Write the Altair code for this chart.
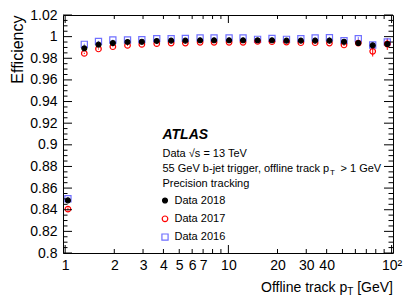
import altair as alt
import pandas as pd

FONT = "Liberation Sans"

# ---- data ----
PT = [1.04, 1.31, 1.60, 1.96, 2.41, 2.95, 3.64, 4.46, 5.45, 6.71, 8.17, 10.1,
      12.3, 15.1, 18.5, 22.7, 27.8, 34.0, 41.6, 51.1, 62.5, 76.6, 94.1]
EFF_2018 = [0.8486, 0.9892, 0.9926, 0.9941, 0.9951, 0.9953, 0.9960, 0.9963, 0.9963,
            0.9966, 0.9966, 0.9966, 0.9966, 0.9966, 0.9966, 0.9963, 0.9963, 0.9963,
            0.9963, 0.9953, 0.9941, 0.9919, 0.9932]
ERR_2018 = [0.0015, 0.0006, 0.0004, 0.0003, 0.0003, 0.0003, 0.0003, 0.0003, 0.0003,
            0.0003, 0.0003, 0.0003, 0.0003, 0.0003, 0.0003, 0.0003, 0.0003, 0.0004,
            0.0005, 0.0006, 0.0008, 0.0012, 0.0015]
EFF_2017 = [0.8406, 0.9845, 0.9886, 0.9907, 0.9919, 0.9928, 0.9935, 0.9941, 0.9941,
            0.9947, 0.9947, 0.9947, 0.9947, 0.9956, 0.9953, 0.9950, 0.9944, 0.9944,
            0.9941, 0.9923, 0.9941, 0.9864, 0.9932]
ERR_2017 = [0.0015, 0.0006, 0.0005, 0.0004, 0.0004, 0.0004, 0.0004, 0.0004, 0.0004,
            0.0004, 0.0004, 0.0004, 0.0004, 0.0004, 0.0004, 0.0005, 0.0005, 0.0006,
            0.0008, 0.0010, 0.0015, 0.0048, 0.0055]
EFF_2016 = [0.8501, 0.9929, 0.9956, 0.9969, 0.9969, 0.9972, 0.9981, 0.9981, 0.9984,
            0.9988, 0.9988, 0.9988, 0.9988, 0.9975, 0.9984, 0.9975, 0.9981, 0.9988,
            0.9990, 0.9963, 0.9981, 0.9923, 0.9951]
ERR_2016 = [0.0015, 0.0006, 0.0005, 0.0004, 0.0004, 0.0004, 0.0004, 0.0004, 0.0004,
            0.0004, 0.0004, 0.0004, 0.0004, 0.0004, 0.0004, 0.0005, 0.0005, 0.0006,
            0.0008, 0.0010, 0.0015, 0.0025, 0.0030]

SERIES = ["Data 2018", "Data 2017", "Data 2016"]
COLORS = ["#000000", "#ff0000", "#6f6fff"]
FILLS = ["#000000", "transparent", "transparent"]
SHAPES = ["circle", "circle", "square"]
SIZES = [24, 38, 44]

X_LABELS = [1, 2, 3, 4, 5, 6, 7, 10, 20, 30, 40, 100]
X_MAJOR = [1, 10, 100]
X_MINOR = [2, 3, 4, 5, 6, 7, 8, 9, 20, 30, 40, 50, 60, 70, 80, 90]
Y_LABELS = [0.8, 0.82, 0.84, 0.86, 0.88, 0.9, 0.92, 0.94, 0.96, 0.98, 1.0, 1.02]
Y_MINOR = [round(0.8 + 0.005 * i, 3) for i in range(45) if i % 4]

ANNOT = ["Data \u221as = 13 TeV", "55 GeV b-jet trigger, offline track p", "T",
         "> 1 GeV", "Precision tracking"]

W, H = 330, 238

rows = []
for name, eff, err in [("Data 2016", EFF_2016, ERR_2016),
                       ("Data 2017", EFF_2017, ERR_2017),
                       ("Data 2018", EFF_2018, ERR_2018)]:
    for p, e, d in zip(PT, eff, err):
        rows.append({"series": name, "pt": p, "eff": e, "lo": e - d, "hi": e + d})
df = pd.DataFrame(rows)

XS = alt.Scale(type="log", domain=[0.97, 102], nice=False)
YS = alt.Scale(domain=[0.8, 1.02], nice=False, zero=False)

XAX = alt.Axis(
    values=X_LABELS, format="~g",
    labelExpr="datum.value == 100 ? '10\u00b2' : datum.label",
    ticks=False, tickSize=0, domain=False, grid=False, title=None,
    labelFont=FONT, labelFontSize=14, labelPadding=5, labelFlush=False,
    labelOverlap=False, labelColor="black")
YAX = alt.Axis(
    values=Y_LABELS, format="~g", ticks=False, tickSize=0, domain=False,
    grid=False, labelFont=FONT, labelFontSize=14, labelPadding=6,
    labelFlush=False, labelOverlap=False, labelColor="black",
    title="Efficiency", titleFont=FONT, titleFontSize=16, titleFontWeight="normal",
    titleAngle=270, titleAlign="right", titleBaseline="middle",
    titleX=-46, titleY=0, titleColor="black")

LEG = alt.Legend(title=None, orient="none", legendX=96.5, legendY=180,
                 labelFont=FONT, labelFontSize=11, labelOffset=4, rowPadding=6.3,
                 padding=0, symbolStrokeWidth=1.2, labelColor="black")


def err_layer(name, color):
    return alt.Chart(df).transform_filter(alt.datum.series == name).mark_rule(
        strokeWidth=1, color=color
    ).encode(
        x=alt.X("pt:Q", scale=XS, axis=XAX),
        y=alt.Y("lo:Q", scale=YS, axis=YAX),
        y2="hi:Q",
    )


err_layers = [err_layer(s, c) for s, c in zip(SERIES[::-1], COLORS[::-1])]

pts = alt.Chart(df).mark_point(filled=False, opacity=1, strokeWidth=1.2).encode(
    x=alt.X("pt:Q", scale=XS, axis=XAX),
    y=alt.Y("eff:Q", scale=YS, axis=YAX),
    color=alt.Color("series:N", scale=alt.Scale(domain=SERIES, range=COLORS), legend=LEG),
    fill=alt.Fill("series:N", scale=alt.Scale(domain=SERIES, range=FILLS), legend=LEG),
    shape=alt.Shape("series:N", scale=alt.Scale(domain=SERIES, range=SHAPES), legend=LEG),
    size=alt.Size("series:N", scale=alt.Scale(domain=SERIES, range=SIZES), legend=LEG),
)


def xticks(values, length, top):
    d = pd.DataFrame({"v": values})
    if top:
        yy = dict(y=alt.value(0), y2=alt.value(length))
    else:
        yy = dict(y=alt.value(H), y2=alt.value(H - length))
    return alt.Chart(d).mark_rule(color="black", strokeWidth=1).encode(
        x=alt.X("v:Q", scale=XS, axis=XAX), **yy)


def yticks(values, length, right):
    d = pd.DataFrame({"v": values})
    if right:
        xx = dict(x=alt.value(W), x2=alt.value(W - length))
    else:
        xx = dict(x=alt.value(0), x2=alt.value(length))
    return alt.Chart(d).mark_rule(color="black", strokeWidth=1).encode(
        y=alt.Y("v:Q", scale=YS, axis=YAX), **xx)


def txt(text, x, y, size=11, align="left", **kw):
    return alt.Chart(pd.DataFrame({"t": [text]})).mark_text(
        align=align, baseline="middle", fontSize=size, font=FONT, color="black", **kw
    ).encode(x=alt.value(x), y=alt.value(y), text="t:N")


tick_layers = [
    xticks(X_MAJOR, 8, False), xticks(X_MINOR, 4, False),
    xticks(X_MAJOR, 8, True), xticks(X_MINOR, 4, True),
    yticks(Y_LABELS, 9, False), yticks(Y_MINOR, 4.5, False),
    yticks(Y_LABELS, 9, True), yticks(Y_MINOR, 4.5, True),
]

text_layers = [
    txt("ATLAS", 99.5, 120, size=14, fontWeight="bold", fontStyle="italic"),
    txt(ANNOT[0], 99.5, 138.5),
    txt(ANNOT[1], 99.5, 153.5),
    txt(ANNOT[2], 267.0, 157.5, size=8),
    txt(ANNOT[3], 277.5, 153.5),
    txt(ANNOT[4], 99.5, 168.5),
    # x-axis title: Offline track p_T [GeV]
    txt(" [GeV]", W, 272.5, size=14, align="right"),
    txt("T", W - 39.7, 277, size=10, align="right"),
    txt("Offline track p", W - 39.7 - 6.1, 272.5, size=14, align="right"),
]

chart = alt.layer(*err_layers, pts, *tick_layers, *text_layers).properties(
    width=W, height=H,
    autosize=alt.AutoSizeParams(type="none"),
    padding={"left": 55, "top": 7, "right": 14, "bottom": 44},
    background="white",
).configure_view(stroke="black", strokeWidth=1)

chart.save("out.html", embed_options={"renderer": "svg", "actions": False})
